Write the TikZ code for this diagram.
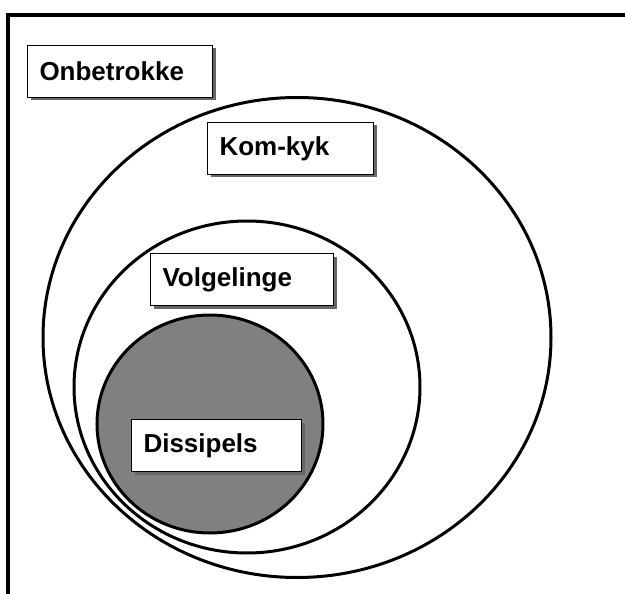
\documentclass[tikz,border=0pt]{standalone}
\usepackage{fontspec}
\setmainfont{Liberation Sans}
\usetikzlibrary{shadows}
\tikzset{
  setbox/.style={draw, line width=1pt, fill=white, anchor=north west, align=left, text width=#1, inner xsep=12pt, minimum height=52pt, font=\fontsize{26}{30}\selectfont\bfseries, drop shadow={shadow xshift=3pt, shadow yshift=-3pt, fill=black!60, opacity=1}},
  ring/.style={line width=3pt},
  frameline/.style={line width=3.5pt},
  core/.style={line width=3pt, fill=black!50}
}

\begin{document}
\begin{tikzpicture}[x=1pt, y=-1pt]
  \useasboundingbox (0,0) rectangle (625,594);
  % frame, cut off at right and bottom
  \coordinate (fbl) at (8,594);
  \coordinate (ftl) at (8,15);
  \coordinate (ftr) at (625,15);
  \draw[frameline] (fbl) -- (ftl) -- (ftr);
  % nested sets
  \coordinate (komc) at (297,337.5);
  \coordinate (volc) at (247,387);
  \coordinate (disc) at (210,424);
  \draw[ring] (komc) ellipse [x radius=254pt, y radius=240pt];
  \draw[ring] (volc) ellipse [x radius=173pt, y radius=166pt];
  \draw[core] (disc) ellipse [x radius=113pt, y radius=109pt];
  % labels
  \node[setbox=161pt] (onb) at (27,45) {Onbetrokke};
  \node[setbox=142pt] (kom) at (207,122) {Kom-kyk};
  \node[setbox=159pt] (vol) at (150,253) {Volgelinge};
  \node[setbox=146pt] (dis) at (131,419) {Dissipels};
\end{tikzpicture}
\end{document}
